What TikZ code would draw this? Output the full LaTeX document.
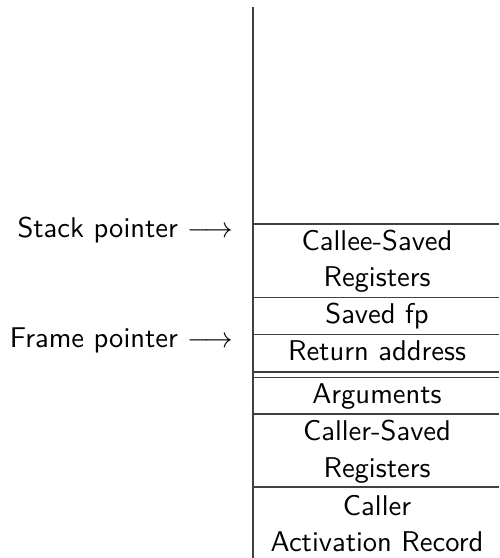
\documentclass[tikz,border=0pt]{standalone}
\renewcommand{\familydefault}{\sfdefault}
\begin{document}
\begin{tikzpicture}[x=0.35pt,y=-0.35pt,
  rule/.style={draw=black!75,line width=0.4pt},
  cell/.style={anchor=base,inner sep=0pt,font=\sffamily},
  lbl/.style={anchor=base east,inner sep=0pt,font=\sffamily}]
\useasboundingbox (0,0) rectangle (499,558);
\coordinate (top) at (253,7);
\coordinate (bot) at (253,558);
\draw[rule] (top) -- (bot);
\foreach \y [count=\i] in {224,297.5,334.5,372,377.5,414,487}{
  \coordinate (L\i) at (253,\y);
  \coordinate (R\i) at (499,\y);
  \draw[rule] (L\i) -- (R\i);
}
\node[cell] (c1) at (377,250.5) {Callee-Saved};
\node[cell] (c2) at (377,287) {Registers};
\node[cell] (c3) at (377,324) {Saved fp};
\node[cell] (c4) at (377,360.5) {Return address};
\node[cell] (c5) at (377,403) {Arguments};
\node[cell] (c6) at (377,440.5) {Caller-Saved};
\node[cell] (c7) at (377,477) {Registers};
\node[cell] (c8) at (377,515) {Caller};
\node[cell] (c9) at (377,551) {Activation Record};
\node[lbl] (sp) at (234,238) {Stack pointer $\longrightarrow$};
\node[lbl] (fp) at (234,347.5) {Frame pointer $\longrightarrow$};
\end{tikzpicture}
\end{document}
